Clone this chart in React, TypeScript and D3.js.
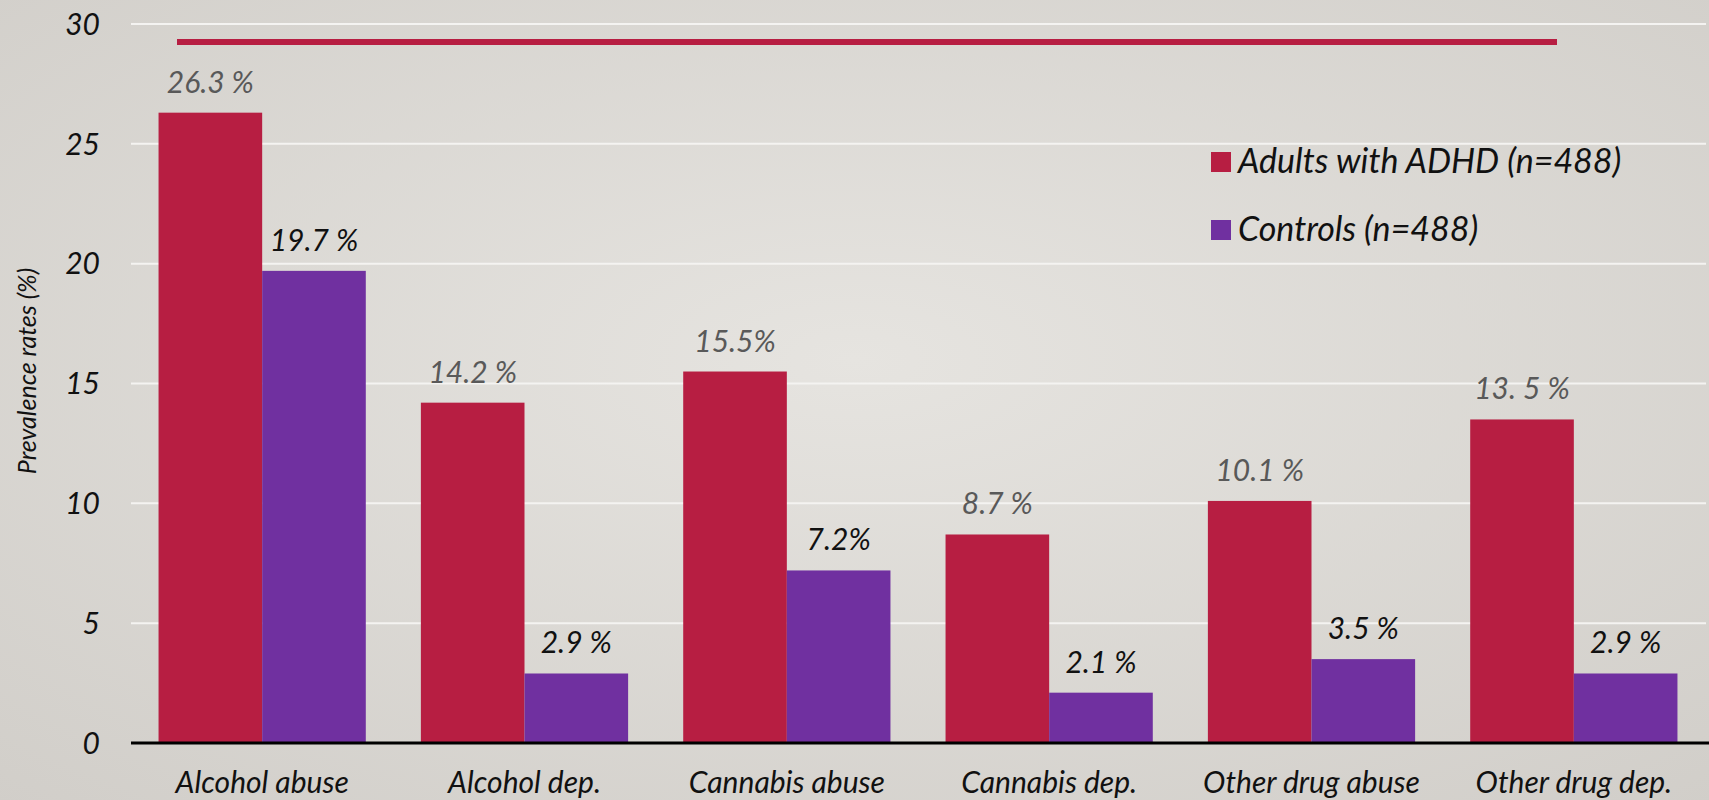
import React from "react";
import * as d3 from "d3";

const categories = ["Alcohol abuse", "Alcohol dep.", "Cannabis abuse", "Cannabis dep.", "Other drug abuse", "Other drug dep."];
const seriesNames = ["Adults with ADHD (n=488)", "Controls (n=488)"];
const adhdValues = [26.3, 14.2, 15.5, 8.7, 10.1, 13.5];
const controlValues = [19.7, 2.9, 7.2, 2.1, 3.5, 2.9];
const adhdLabels = ["26.3 %", "14.2 %", "15.5%", "8.7 %", "10.1 %", "13. 5 %"];
const controlLabels = ["19.7 %", "2.9 %", "7.2%", "2.1 %", "3.5 %", "2.9 %"];
const yTicks = [0, 5, 10, 15, 20, 25, 30];
const yTitle = "Prevalence rates (%)";

const W = 1709;
const H = 800;
const RED = "#B71E42";
const PURPLE = "#7030A0";
const FONT = "Lato, 'Open Sans', sans-serif";

export default function App() {
  const x = d3.scaleBand<string>().domain(categories).range([131, 1705]).paddingInner(0.21).paddingOuter(0.105);
  const y = d3.scaleLinear().domain([0, 30]).range([743, 24]);
  const sub = d3.scaleBand<number>().domain([0, 1]).range([0, x.bandwidth()]);
  const series = [
    { vals: adhdValues, labels: adhdLabels, color: RED, labelColor: "#595959" },
    { vals: controlValues, labels: controlLabels, color: PURPLE, labelColor: "#111" },
  ];
  return (
    <div style={{ position: "absolute", left: 0, top: 0 }}>
      <svg width={W} height={H} style={{ display: "block" }}>
        <defs>
          <radialGradient id="bg" cx="50%" cy="45%" r="75%">
            <stop offset="0%" stopColor="#e6e4e0" />
            <stop offset="100%" stopColor="#d1cec9" />
          </radialGradient>
        </defs>
        <rect x={0} y={0} width={W} height={H} fill="url(#bg)" />
        {yTicks.slice(1).map((t) => (
          <line key={t} x1={131} x2={1706} y1={y(t)} y2={y(t)} stroke="#f4f3f1" strokeWidth={2} />
        ))}
        {yTicks.map((t) => (
          <text key={t} x={100} y={y(t)} dy="0.36em" textAnchor="end" fontFamily={FONT} fontStyle="italic" fontSize={30} fill="#111">
            {t}
          </text>
        ))}
        <text transform={`translate(36,371) rotate(-90)`} textAnchor="middle" fontFamily={FONT} fontStyle="italic" fontSize={25} fill="#111">
          {yTitle}
        </text>
        <line x1={177} x2={1557} y1={42} y2={42} stroke={RED} strokeWidth={6} />
        {series.map((s, si) =>
          categories.map((c, ci) => {
            const bx = (x(c) as number) + (sub(si) as number);
            const bw = sub.bandwidth();
            const v = s.vals[ci];
            return (
              <g key={`${si}-${ci}`}>
                <rect x={bx} y={y(v)} width={bw} height={y(0) - y(v)} fill={s.color} />
                <text x={bx + bw / 2} y={y(v) - 20} textAnchor="middle" fontFamily={FONT} fontStyle="italic" fontSize={30} fill={s.labelColor}>
                  {s.labels[ci]}
                </text>
              </g>
            );
          })
        )}
        <line x1={131} x2={1709} y1={743} y2={743} stroke="#000" strokeWidth={3} />
        {categories.map((c) => (
          <text key={c} x={(x(c) as number) + x.bandwidth() / 2} y={793} textAnchor="middle" fontFamily={FONT} fontStyle="italic" fontSize={30} fill="#111">
            {c}
          </text>
        ))}
        {seriesNames.map((n, i) => (
          <g key={n} transform={`translate(1211,${152 + i * 68})`}>
            <rect x={0} y={0} width={20} height={20} fill={i === 0 ? RED : PURPLE} />
            <text x={27} y={21} fontFamily={FONT} fontStyle="italic" fontSize={34} fill="#111">
              {n}
            </text>
          </g>
        ))}
      </svg>
    </div>
  );
}
